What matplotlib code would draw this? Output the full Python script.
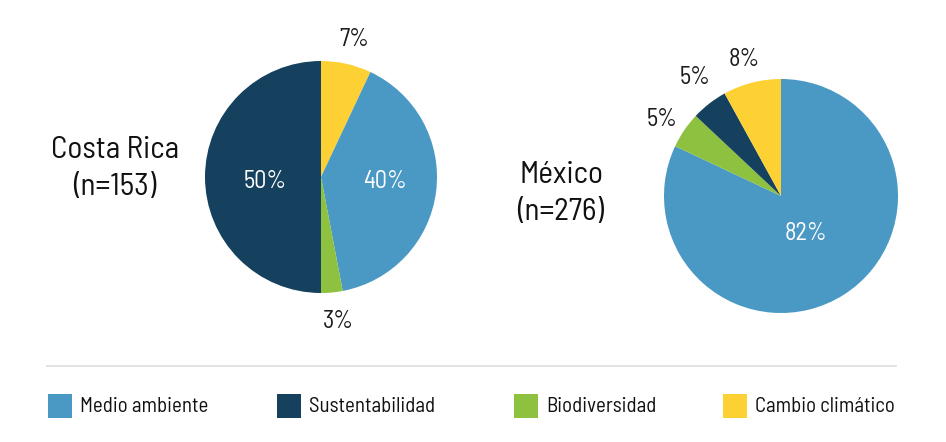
import matplotlib
matplotlib.use("Agg")
import matplotlib.pyplot as plt
from matplotlib import font_manager
from matplotlib.patches import Rectangle

names = {f.name for f in font_manager.fontManager.ttflist}
prefs = ["Barlow Semi Condensed", "Barlow Condensed", "Roboto Condensed",
         "Liberation Sans Narrow", "Archivo Narrow", "DejaVu Sans Condensed", "DejaVu Sans"]
family = next(p for p in prefs if p in names)
plt.rcParams['font.family'] = [family, 'DejaVu Sans']

categories = ["Medio ambiente", "Sustentabilidad", "Biodiversidad", "Cambio climático"]
colors = {"Medio ambiente": "#4A98C4", "Sustentabilidad": "#15415F",
          "Biodiversidad": "#8DC13F", "Cambio climático": "#FDD033"}

cr_order = ["Cambio climático", "Medio ambiente", "Biodiversidad", "Sustentabilidad"]
cr_values = [7, 40, 3, 50]
mx_order = ["Medio ambiente", "Biodiversidad", "Sustentabilidad", "Cambio climático"]
mx_values = [82, 5, 5, 8]

W, H = 946, 442
fig = plt.figure(figsize=(W / 100, H / 100), dpi=100)
ax = fig.add_axes([0, 0, 1, 1])

def Y(py):
    return H - py

def draw_pie(values, order, center, radius, label_pos, label_colors):
    ax.pie(values, colors=[colors[c] for c in order], startangle=90, counterclock=False,
           center=(center[0], Y(center[1])), radius=radius, frame=True,
           wedgeprops=dict(linewidth=0))
    for v, (px, py), col in zip(values, label_pos, label_colors):
        ax.text(px, Y(py), f"{v}%", ha='center', va='center', fontsize=17.5,
                color=col)

draw_pie(cr_values, cr_order, (321, 177), 116,
         [(354, 40), (385, 181), (338, 321), (265, 181)],
         ['#1a1a1a', 'white', '#1a1a1a', 'white'])
draw_pie(mx_values, mx_order, (781, 196), 117,
         [(806, 233), (662, 119), (695, 78), (744, 60)],
         ['white', '#1a1a1a', '#1a1a1a', '#1a1a1a'])
ax.set_xlim(0, W)
ax.set_ylim(0, H)
ax.set_aspect('equal')
ax.axis('off')

for (x, y1), l1, l2 in [((115, 158), "Costa Rica", "(n=153)"), ((561, 183), "México", "(n=276)")]:
    ax.text(x, Y(y1), l1, ha='center', va='baseline', fontsize=22.5, color='#111111')
    ax.text(x, Y(y1 + 37), l2, ha='center', va='baseline', fontsize=22.5, color='#111111')

ax.plot([47, 896], [Y(366), Y(366)], color='#DDDDDD', linewidth=1.2)

leg_x = [48, 277, 514, 723]
for c, x in zip(categories, leg_x):
    ax.add_patch(Rectangle((x, Y(418)), 24, 24, facecolor=colors[c], edgecolor='none'))
    ax.text(x + 32, Y(406), c, ha='left', va='center', fontsize=15, color='#111111')

fig.savefig("out.png", dpi=100)
